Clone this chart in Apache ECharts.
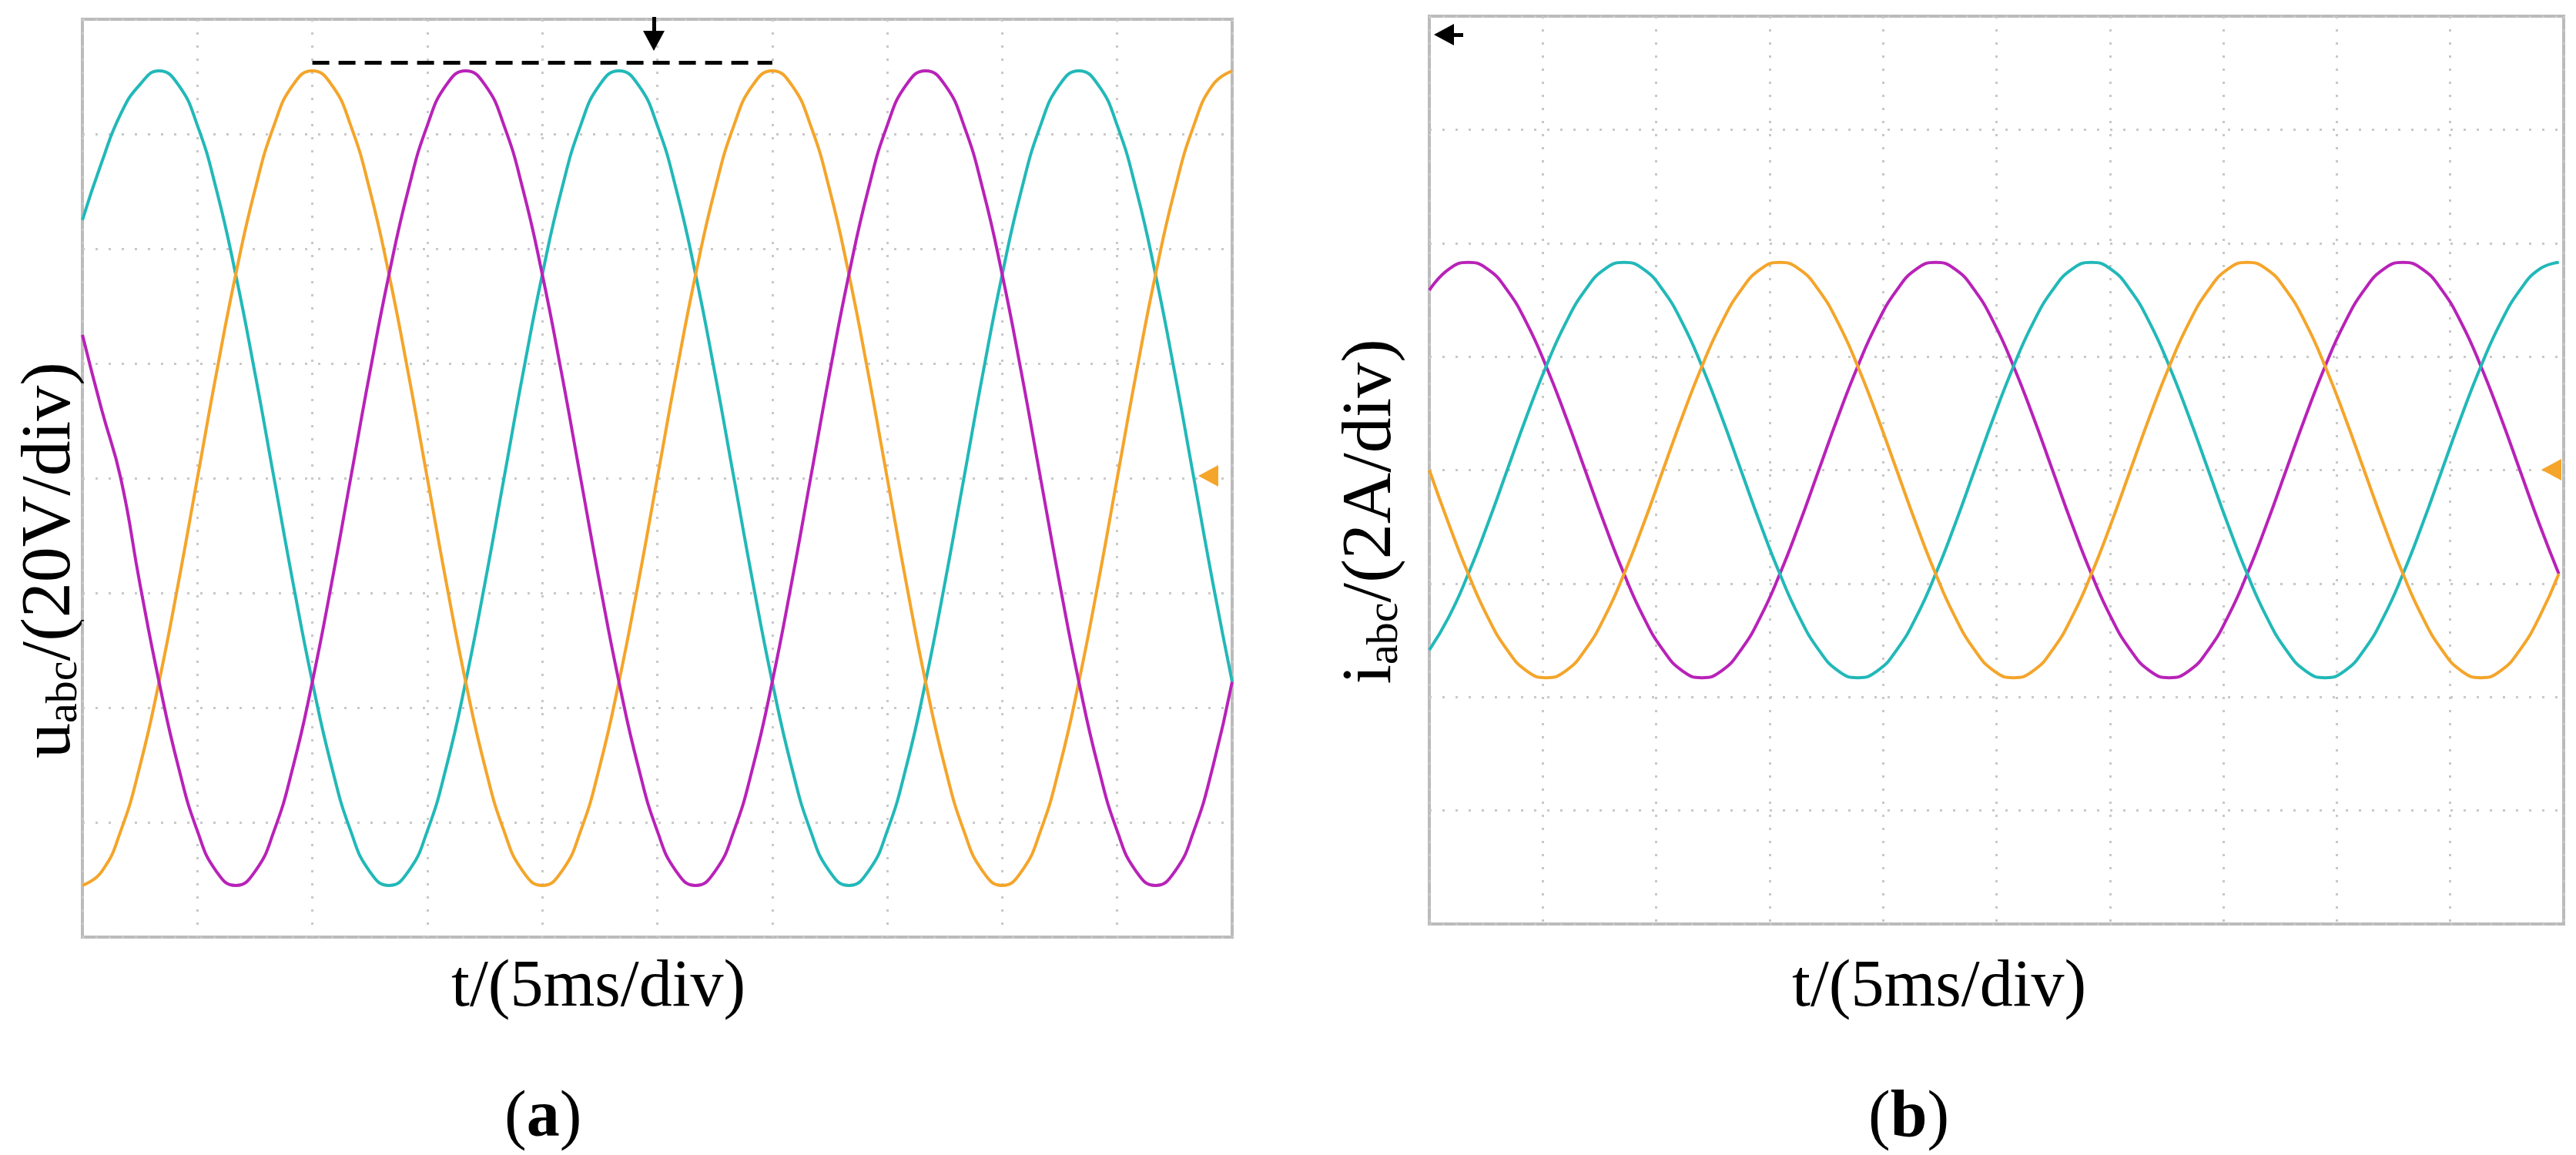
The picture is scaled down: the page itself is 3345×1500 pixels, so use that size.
<!DOCTYPE html>
<html><head><meta charset="utf-8">
<script src="https://cdn.jsdelivr.net/npm/echarts@6/dist/echarts.min.js"></script>
<style>html,body{margin:0;padding:0;background:#fff}#c{width:3345px;height:1500px}</style>
</head><body><div id="c"></div>
<script>
// Panel (a): voltage samples (V), one sample = 1/6 div
const uCyan = [45,55,63.5,68.6,71,68.6,61.5,50.2,35.5,18.4,0,-18.4,-35.5,-50.2,-61.5,-68.6,-71,-68.6,-61.5,-50.2,-35.5,-18.4,0,18.4,
35.5,50.2,61.5,68.6,71,68.6,61.5,50.2,35.5,18.4,0,-18.4,-35.5,-50.2,-61.5,-68.6,-71,-68.6,-61.5,-50.2,-35.5,-18.4,0,18.4,
35.5,50.2,61.5,68.6,71,68.6,61.5,50.2,35.5,18.4,0,-18.4,-35.5];
const uOrange = [-71,-68.6,-61.5,-50.2,-35.5,-18.4,0,18.4,35.5,50.2,61.5,68.6,71,68.6,61.5,50.2,35.5,18.4,0,-18.4,-35.5,-50.2,-61.5,-68.6,
-71,-68.6,-61.5,-50.2,-35.5,-18.4,0,18.4,35.5,50.2,61.5,68.6,71,68.6,61.5,50.2,35.5,18.4,0,-18.4,-35.5,-50.2,-61.5,-68.6,
-71,-68.6,-61.5,-50.2,-35.5,-18.4,0,18.4,35.5,50.2,61.5,68.6,71];
const uMagenta = [25,12,0,-18.4,-35.5,-50.2,-61.5,-68.6,-71,-68.6,-61.5,-50.2,-35.5,-18.4,0,18.4,35.5,50.2,61.5,68.6,71,68.6,61.5,50.2,
35.5,18.4,0,-18.4,-35.5,-50.2,-61.5,-68.6,-71,-68.6,-61.5,-50.2,-35.5,-18.4,0,18.4,35.5,50.2,61.5,68.6,71,68.6,61.5,50.2,
35.5,18.4,0,-18.4,-35.5,-50.2,-61.5,-68.6,-71,-68.6,-61.5,-50.2,-35.5];
// Panel (b): current samples (A), one sample = 0.1717 div
const iMagenta = [3.17,3.54,3.66,3.54,3.17,2.59,1.83,0.95,0,-0.95,-1.83,-2.59,-3.17,-3.54,-3.66,-3.54,-3.17,-2.59,-1.83,-0.95,0,0.95,1.83,2.59,
3.17,3.54,3.66,3.54,3.17,2.59,1.83,0.95,0,-0.95,-1.83,-2.59,-3.17,-3.54,-3.66,-3.54,-3.17,-2.59,-1.83,-0.95,0,0.95,1.83,2.59,
3.17,3.54,3.66,3.54,3.17,2.59,1.83,0.95,0,-0.95,-1.83];
const iCyan = [-3.17,-2.59,-1.83,-0.95,0,0.95,1.83,2.59,3.17,3.54,3.66,3.54,3.17,2.59,1.83,0.95,0,-0.95,-1.83,-2.59,-3.17,-3.54,-3.66,-3.54,
-3.17,-2.59,-1.83,-0.95,0,0.95,1.83,2.59,3.17,3.54,3.66,3.54,3.17,2.59,1.83,0.95,0,-0.95,-1.83,-2.59,-3.17,-3.54,-3.66,-3.54,
-3.17,-2.59,-1.83,-0.95,0,0.95,1.83,2.59,3.17,3.54,3.66];
const iOrange = [0,-0.95,-1.83,-2.59,-3.17,-3.54,-3.66,-3.54,-3.17,-2.59,-1.83,-0.95,0,0.95,1.83,2.59,3.17,3.54,3.66,3.54,3.17,2.59,1.83,0.95,
0,-0.95,-1.83,-2.59,-3.17,-3.54,-3.66,-3.54,-3.17,-2.59,-1.83,-0.95,0,0.95,1.83,2.59,3.17,3.54,3.66,3.54,3.17,2.59,1.83,0.95,
0,-0.95,-1.83,-2.59,-3.17,-3.54,-3.66,-3.54,-3.17,-2.59,-1.83];

const C_CYAN='#22b8b8', C_OR='#f4a52a', C_MAG='#b822b8';
const chart = echarts.init(document.getElementById('c'));
function pts(a){return a.map((v,i)=>[i,v]);}
const split = {show:true,lineStyle:{color:'#c8c8c8',type:[3,14],width:3}};
function xAx(idx,max){return {type:'value',gridIndex:idx,min:0,max:max,interval:max/10,
  axisLabel:{show:false},axisTick:{show:false},axisLine:{show:false},splitLine:split};}
function yAx(idx,max){return {type:'value',gridIndex:idx,min:-max,max:max,interval:max/4,
  axisLabel:{show:false},axisTick:{show:false},axisLine:{show:false},splitLine:split};}
function ser(idx,data,color,extra){return Object.assign({type:'line',xAxisIndex:idx,yAxisIndex:idx,data:pts(data),
  smooth:true,showSymbol:false,lineStyle:{color:color,width:4},itemStyle:{color:color},z:3},extra||{});}
const F='Liberation Serif';
const title = {fontFamily:F,fontSize:86,fill:'#000'};
const sub = {fontFamily:F,fontSize:58,color:'#000',padding:[36,0,0,0]};
const main = {fontFamily:F,fontSize:92,color:'#000'};
function arrowDown(x,y,c){return {type:'polygon',shape:{points:[[x-14,y],[x+14,y],[x,y+26]]},style:{fill:c},z:10};}
function arrowLeft(x,y,c){return {type:'polygon',shape:{points:[[x,y],[x+26,y-14],[x+26,y+14]]},style:{fill:c},z:10};}
chart.setOption({
  animation:false,
  grid:[
    {left:107,top:25,width:1493,height:1192,show:true,borderColor:'#bbb',borderWidth:4,backgroundColor:'#fff'},
    {left:1856,top:21,width:1473,height:1179,show:true,borderColor:'#bbb',borderWidth:4,backgroundColor:'#fff'}
  ],
  xAxis:[xAx(0,60),xAx(1,58.25)],
  yAxis:[yAx(0,80),yAx(1,8)],
  series:[
    ser(0,uCyan,C_CYAN),ser(0,uOrange,C_OR,{markLine:{silent:true,symbol:'none',label:{show:false},
      lineStyle:{color:'#000',type:[22,12],width:5},data:[[{coord:[12,72.5]},{coord:[36,72.5]}]]}}),
    ser(0,uMagenta,C_MAG),
    ser(1,iMagenta,C_MAG),ser(1,iCyan,C_CYAN),ser(1,iOrange,C_OR)
  ],
  graphic:[
    {type:'text',left:20,top:470,rotation:Math.PI/2,style:{text:'{m|u}{s|abc}{m|/(20V/div)}',rich:{m:main,s:sub}}},
    {type:'text',left:1735,top:440,rotation:Math.PI/2,style:{text:'{m|i}{s|abc}{m|/(2A/div)}',rich:{m:main,s:sub}}},
    {type:'text',left:586,top:1240,style:Object.assign({text:'t/(5ms/div)'},title)},
    {type:'text',left:2327,top:1240,style:Object.assign({text:'t/(5ms/div)'},title)},
    {type:'text',left:655,top:1410,style:{text:'({b|a})',rich:{b:{fontWeight:'bold',fontFamily:F,fontSize:86}},fontFamily:F,fontSize:86,fill:'#000'}},
    {type:'text',left:2426,top:1410,style:{text:'({b|b})',rich:{b:{fontWeight:'bold',fontFamily:F,fontSize:86}},fontFamily:F,fontSize:86,fill:'#000'}},
    {type:'rect',shape:{x:847,y:22,width:5,height:30},style:{fill:'#000'},z:10},
    arrowDown(849,40,'#000'),
    arrowLeft(1556,618,C_OR),
    {type:'rect',shape:{x:1870,y:43,width:30,height:5},style:{fill:'#000'},z:10},
    arrowLeft(1862,45,'#000'),
    arrowLeft(3300,610,C_OR)
  ]
});
</script></body></html>
